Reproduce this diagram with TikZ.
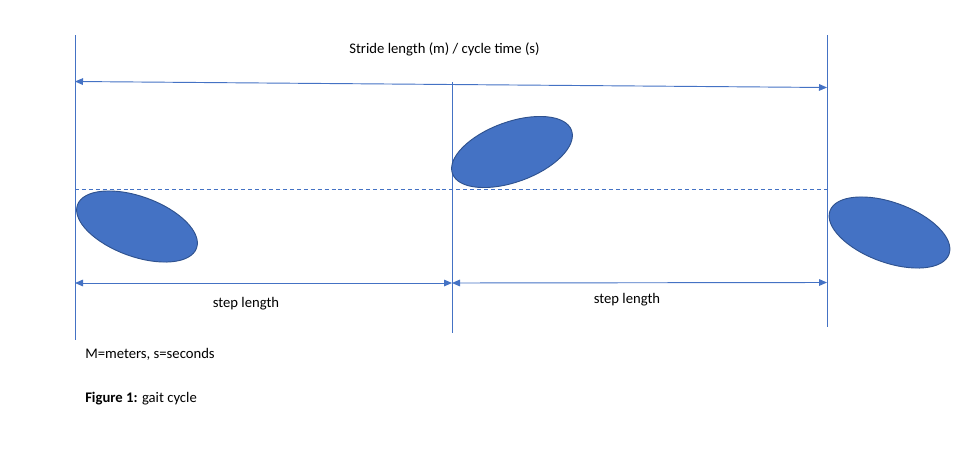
\documentclass[tikz,border=0pt]{standalone}
\usepackage{fontspec}
\setmainfont{Carlito}
\usetikzlibrary{shapes.geometric, arrows.meta, positioning}
\definecolor{officeblue}{HTML}{4472C4}
\definecolor{footedge}{HTML}{2F528F}
\tikzset{
  guide/.style   = {draw=officeblue, line width=0.7pt},
  midline/.style = {draw=officeblue, line width=0.6pt, dash pattern=on 3pt off 2.2pt},
  span/.style    = {draw=officeblue, line width=0.7pt,
                    {Triangle[length=6pt,width=5pt]}-{Triangle[length=6pt,width=5pt]}},
  foot/.style    = {ellipse, draw=footedge, line width=0.7pt, fill=officeblue,
                    minimum width=95pt, minimum height=45pt, inner sep=0pt},
  label/.style   = {font=\fontsize{11}{13}\selectfont, inner sep=0pt}
}

\begin{document}
\begin{tikzpicture}[x=0.75pt, y=-0.75pt]

\useasboundingbox (0,0) rectangle (968,450);

% vertical guides
\coordinate (lTop) at (75,35);
\coordinate (lBot) at (75,340);
\coordinate (mTop) at (452,82);
\coordinate (mBot) at (452,333);
\coordinate (rTop) at (827,35);
\coordinate (rBot) at (827,327);

\draw[guide] (lTop) -- (lBot);
\draw[guide] (mTop) -- (mBot);
\draw[guide] (rTop) -- (rBot);

% stride
\coordinate (strideL) at (75,81.5);
\coordinate (strideR) at (827,87.5);
\draw[span] (strideL) -- (strideR);
\node[label] at (444.5,49) (stride) {Stride length (m) / cycle time (s)};

% body line
\coordinate (midL) at (75,189);
\coordinate (midR) at (827,189);
\draw[midline] (midL) -- (midR);

% feet
\node[foot, rotate=-20] at (137,226.5) (footL) {};
\node[foot, rotate=20] at (512,152) (footM) {};
\node[foot, rotate=-20] at (889.5,232.5) (footR) {};

% steps
\coordinate (stepL) at (75,283);
\coordinate (stepM) at (452,283);
\coordinate (stepR) at (827,282.5);
\draw[span] (stepL) -- (stepM);
\draw[span] (stepM) -- (stepR);
\node[label] at (246,304) (step1) {step length};
\node[label] at (627,300) (step2) {step length};

% notes
\node[label, anchor=west] at (85,354) (units) {M=meters, s=seconds};
\node[label, anchor=west] at (85,399) (caption) {\textbf{Figure 1:} gait cycle};

\end{tikzpicture}
\end{document}
